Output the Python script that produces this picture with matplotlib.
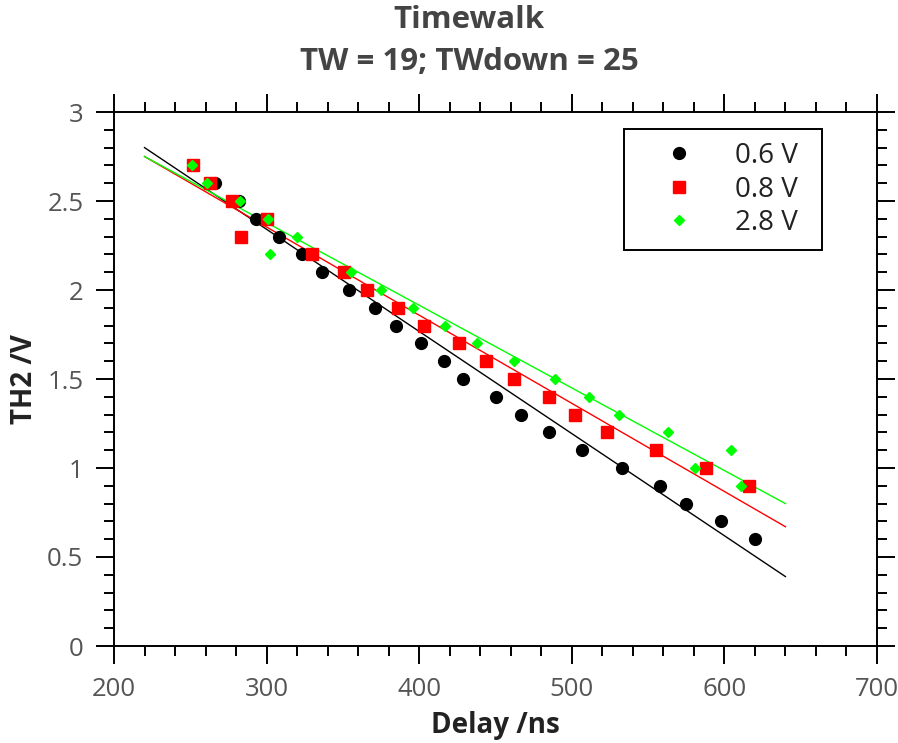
import matplotlib
matplotlib.use("Agg")
import matplotlib.pyplot as plt
from matplotlib.ticker import MultipleLocator, FormatStrFormatter

plt.rcParams["font.family"] = ["Open Sans", "DejaVu Sans"]

# 0.6 V
x_06 = [266, 282, 293, 308, 323, 336.5, 354, 371, 385, 401, 416, 429, 450, 467,
        485, 507, 533, 558, 575, 598, 620]
y_06 = [2.6, 2.5, 2.4, 2.3, 2.2, 2.1, 2.0, 1.9, 1.8, 1.7, 1.6, 1.5, 1.4, 1.3,
        1.2, 1.1, 1.0, 0.9, 0.8, 0.7, 0.6]

# 0.8 V
x_08 = [252, 263, 277, 283, 300, 329.5, 351, 366, 386, 403, 426, 444, 462, 485,
        502, 523, 555, 588, 616]
y_08 = [2.7, 2.6, 2.5, 2.3, 2.4, 2.2, 2.1, 2.0, 1.9, 1.8, 1.7, 1.6, 1.5, 1.4,
        1.3, 1.2, 1.1, 1.0, 0.9]

# 2.8 V
x_28 = [251, 261, 282.5, 301, 302, 320, 355, 375, 396, 417, 438, 462, 489, 511,
        531, 563, 581, 604, 611]
y_28 = [2.7, 2.6, 2.5, 2.4, 2.2, 2.3, 2.1, 2.0, 1.9, 1.8, 1.7, 1.6, 1.5, 1.4,
        1.3, 1.2, 1.0, 1.1, 0.9]

# linear fits (end points)
fit_x = [220, 640]
fit_06 = [2.80, 0.39]
fit_08 = [2.75, 0.67]
fit_28 = [2.75, 0.80]

fig = plt.figure(figsize=(8.98, 7.43), dpi=100)
ax = fig.add_axes([114 / 898, 1 - 646 / 743, 763 / 898, 534 / 743])

ax.plot(fit_x, fit_06, color="black", linewidth=1.0)
ax.plot(fit_x, fit_08, color="#ff0000", linewidth=1.0)
ax.plot(fit_x, fit_28, color="#00ff00", linewidth=1.0)

ax.plot(x_06, y_06, "o", color="black", markersize=8.5, linestyle="none", label="0.6 V")
ax.plot(x_08, y_08, "s", color="#ff0000", markersize=8.5, linestyle="none", label="0.8 V")
ax.plot(x_28, y_28, "D", color="#00ff00", markersize=5.5, linestyle="none", label="2.8 V")

ax.set_xlim(200, 700)
ax.set_ylim(0, 3)
ax.xaxis.set_major_locator(MultipleLocator(100))
ax.xaxis.set_minor_locator(MultipleLocator(20))
ax.yaxis.set_major_locator(MultipleLocator(0.5))
ax.yaxis.set_minor_locator(MultipleLocator(0.1))
ax.yaxis.set_major_formatter(FormatStrFormatter("%g"))
ax.tick_params(which="both", direction="out", top=True, right=True, width=1.4,
               colors="black", labelcolor="#555555", labelsize=18.5)
ax.tick_params(which="major", length=13, pad=9)
ax.tick_params(which="minor", length=7)
ax.tick_params(axis="x", labeltop=False)
ax.tick_params(axis="y", labelright=False)
for sp in ax.spines.values():
    sp.set_linewidth(1.4)

ax.set_xlabel("Delay /ns", fontsize=20, fontweight="bold", color="#222222", labelpad=7)
ax.set_ylabel("TH2 /V", fontsize=20, fontweight="bold", color="#222222", labelpad=6)

fig.text(469 / 898, 1 - 20 / 743, "Timewalk", ha="center", va="center",
         fontsize=22.5, fontweight="bold", color="#444444")
fig.text(469 / 898, 1 - 62 / 743, "TW = 19; TWdown = 25", ha="center", va="center",
         fontsize=22.5, fontweight="bold", color="#444444")

leg_x0 = (624 - 114) / 763
leg_w = (822 - 624) / 763
leg_top = (646 - 129) / 534
leg = ax.legend(loc="upper left", bbox_to_anchor=(leg_x0, leg_top - 0.3, leg_w, 0.3),
                mode="expand", fontsize=20, frameon=True, fancybox=False,
                edgecolor="black", borderpad=0.47, handletextpad=0.52,
                labelspacing=0.2, borderaxespad=0, handlelength=3.0, framealpha=1)
leg.get_frame().set_linewidth(1.4)
for t in leg.get_texts():
    t.set_color("#222222")

fig.savefig("out.png", dpi=100)
